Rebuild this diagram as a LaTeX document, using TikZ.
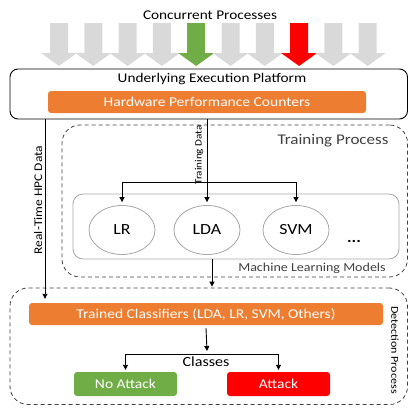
\documentclass[tikz,border=0pt]{standalone}
\usepackage{fontspec}
\setmainfont{Carlito}[FakeStretch=1.15]
\usetikzlibrary{arrows.meta,shapes.geometric,calc}
\definecolor{orng}{HTML}{ED7D31}
\definecolor{grn}{HTML}{70AD47}
\definecolor{rd}{HTML}{FF0000}
\definecolor{lgray}{HTML}{D9D9D9}
\definecolor{dgray}{HTML}{404040}
\definecolor{mgray}{HTML}{A6A6A6}
\newcommand{\fs}[1]{\fontsize{#1}{#1}\selectfont}
\begin{document}
\begin{tikzpicture}[x=1pt,y=-1pt,
  arr/.style={-{Triangle[length=5pt,width=5pt]}, line width=0.9pt},
  bar/.style={rounded corners=3pt, inner sep=0pt, text=white, font=\fs{13.5}},
  frame/.style={draw=dgray, dashed, dash pattern=on 4pt off 3pt, line width=0.8pt, inner sep=0pt},
  model/.style={ellipse, draw=mgray, line width=0.8pt, minimum width=66pt, minimum height=49pt, inner sep=0pt, font=\fs{15.5}},
  lbl/.style={inner sep=0pt, font=\fs{13.3}}
]
\useasboundingbox (0,0) rectangle (409,407);

% concurrent processes
\node[lbl] (cp) at (210,15) {Concurrent Processes};
\foreach \i/\c in {0/lgray,1/lgray,2/lgray,3/lgray,4/grn,5/lgray,6/lgray,7/rd,8/lgray,9/lgray}{
  \pgfmathsetmacro{\xc}{59+34.3*\i}
  \fill[\c] (\xc-9,23) -- (\xc+9,23) -- (\xc+9,53) -- (\xc+18,53) -- (\xc,66) -- (\xc-18,53) -- (\xc-9,53) -- cycle;
}

% platform
\node[draw, line width=0.9pt, rounded corners=8pt, minimum width=397.5pt, minimum height=50pt, inner sep=0pt] (plat) at (208.75,94) {};
\node[lbl] (platl) at (212,79) {Underlying Execution Platform};
\node[bar, fill=orng, minimum width=318pt, minimum height=22pt] (hpc) at (207,102) {Hardware Performance Counters};

% training process
\node[frame, rounded corners=18pt, minimum width=345.5pt, minimum height=152pt] (train) at (234.75,201) {};
\node[lbl, text=dgray, font=\fs{14.8}] (trainl) at (333,141) {Training Process};
\node[draw=mgray, line width=0.8pt, rounded corners=10pt, minimum width=326pt, minimum height=65pt, inner sep=0pt] (ml) at (236,226.5) {};
\node[model] (lr) at (122,230) {LR};
\node[model] (lda) at (207,230) {LDA};
\node[model] (svm) at (296,230) {SVM};
\node[inner sep=0pt, font=\fs{15}\bfseries] (dots) at (354,241) {...};
\node[lbl, text=dgray, font=\fs{12.2}] (mll) at (312,268) {Machine Learning Models};

% detection process
\node[frame, rounded corners=18pt, minimum width=397.5pt, minimum height=116.5pt] (det) at (208.75,346.25) {};
\node[lbl, rotate=-90, font=\fs{10.5}] (detl) at (395,350) {Detection Process};
\node[bar, fill=orng, minimum width=354pt, minimum height=22pt] (tc) at (206,314) {Trained Classifiers (LDA, LR, SVM, Others)};
\node[lbl, font=\fs{14}] (cls) at (206,362) {Classes};
\node[bar, fill=grn, minimum width=103pt, minimum height=24pt] (noatk) at (125.5,384) {No Attack};
\node[bar, fill=rd, minimum width=103pt, minimum height=24pt] (atk) at (278.5,384) {Attack};

% connectors
\coordinate (rt) at (45,119);
\draw[arr] (rt) -- ($(rt |- tc.north)+(0,-4)$);
\node[lbl, rotate=90, font=\fs{11.7}] (rtl) at (38,200) {Real-Time HPC Data};
\coordinate (td) at (207,119);
\coordinate (tb) at (207,182);
\draw[arr, shorten >=3pt] (td) -- (lda.north);
\node[lbl, rotate=90, font=\fs{9.7}] (tdl) at (199,155) {Training Data};
\draw[arr, shorten >=3pt] (tb) -| (lr.north);
\draw[arr, shorten >=3pt] (tb) -| (svm.north);
\coordinate (mlo) at (212,259);
\draw[arr] (mlo) -- ($(mlo |- det.north)+(0,-1)$);
\coordinate (cb) at (207,354);
\draw[arr] ($(tc.south)+(0,3)$) -- ($(cb)+(0,-3)$);
\draw[arr, shorten >=2pt] (cb) -| (noatk.north);
\draw[arr, shorten >=2pt] (cb) -| (atk.north);
\end{tikzpicture}
\end{document}
